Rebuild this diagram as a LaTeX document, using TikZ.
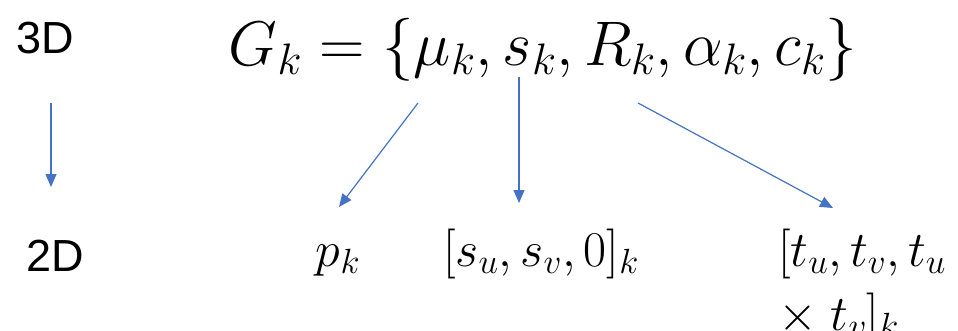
\RequirePackage{fix-cm}
\documentclass[tikz,border=0pt]{standalone}
\usepackage{fontspec}
\usepackage{tikz}
\usetikzlibrary{arrows.meta,positioning}
\newfontfamily\dimfont{Liberation Sans}
\definecolor{ABlue}{RGB}{68,114,196}

\tikzset{
  maparrow/.style={draw=ABlue, line width=1.2pt, -{Triangle[width=11pt,length=13pt]}},
  dimlabel/.style={font=\dimfont\fontsize{45}{50}\selectfont, inner sep=0pt},
  gausslabel/.style={font=\fontsize{63}{70}\selectfont, inner sep=0pt},
  proj/.style={font=\fontsize{50}{64}\selectfont, inner sep=0pt}
}

\begin{document}
\begin{tikzpicture}[x=1pt,y=-1pt]
  \useasboundingbox (0,0) rectangle (958,330);

  % dimensions
  \node[dimlabel] (three) at (45,38) {3D};
  \node[dimlabel] (two) at (55,256) {2D};

  % the Gaussian and its projected parts
  \node[gausslabel, anchor=base] (gauss) at (543,65)
    {$G_k=\{\mu_k,s_k,R_k,\alpha_k,c_k\}$};
  \node[proj, anchor=base] (pos) at (338,266) {$p_k$};
  \node[proj, anchor=base] (scale) at (541,266) {$[s_u,s_v,0]_k$};
  \node[proj, anchor=base west, align=left] (rot) at (778,330)
    {$[t_u,t_v,t_u$\\$\times\;t_v]_k$};

  \coordinate (dimtop) at (51,103);
  \coordinate (dimtip) at (51,187);
  \coordinate (mu) at (418,103);
  \coordinate (mutip) at (339,207);
  \coordinate (s) at (519,77);
  \coordinate (stip) at (519,203);
  \coordinate (r) at (638,103);
  \coordinate (rtip) at (833,208);

  \draw[maparrow] (dimtop) -- (dimtip);
  \draw[maparrow] (mu) -- (mutip);
  \draw[maparrow] (s) -- (stip);
  \draw[maparrow] (r) -- (rtip);
\end{tikzpicture}
\end{document}
